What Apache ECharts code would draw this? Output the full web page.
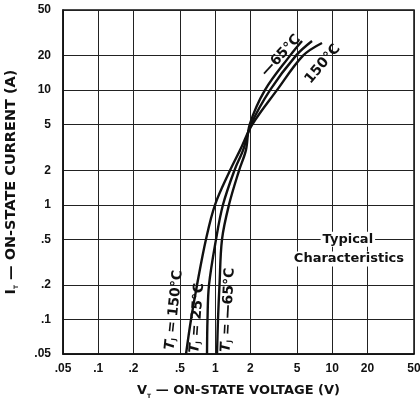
<!DOCTYPE html>
<html>
<head>
<meta charset="utf-8">
<script src="https://cdn.jsdelivr.net/npm/echarts@6/dist/echarts.min.js"></script>
<style>
  html, body { margin: 0; padding: 0; background: #fff; }
  #chart { width: 420px; height: 401px; }
</style>
</head>
<body>
<div id="chart"></div>
<script>
// tick values (log-log, 1-2-5 grid)
const xTicks = [0.05, 0.1, 0.2, 0.5, 1, 2, 5, 10, 20, 50];
const xTickLabels = ['.05', '.1', '.2', '.5', '1', '2', '5', '10', '20', '50'];
const yTicks = [0.05, 0.1, 0.2, 0.5, 1, 2, 5, 10, 20, 50];
const yTickLabels = ['.05', '.1', '.2', '.5', '1', '2', '5', '10', '20', '50'];

// T_J = 150°C
const current150 = [0.05, 0.1, 0.2, 0.5, 1, 2, 3, 5, 10, 20, 25.8];
const voltage150 = [0.563, 0.621, 0.699, 0.834, 0.996, 1.34, 1.63, 2.07, 3.37, 5.63, 8.18];
// T_J = 25°C
const current25 = [0.05, 0.1, 0.2, 0.5, 1, 2, 3, 5, 10, 20, 26.8];
const voltage25 = [0.851, 0.859, 0.885, 1.016, 1.165, 1.46, 1.73, 2.02, 2.94, 4.90, 6.72];
// T_J = -65°C
const currentM65 = [0.05, 0.1, 0.2, 0.5, 1, 2, 3, 5, 10, 20, 26.8];
const voltageM65 = [1.036, 1.056, 1.088, 1.143, 1.311, 1.60, 1.83, 1.97, 2.66, 4.36, 5.52];

const lg = Math.log10;
const xTickLog = xTicks.map(lg);
const yTickLog = yTicks.map(lg);

function pickLabel(logs, labels, val) {
  const i = logs.findIndex(t => Math.abs(t - val) < 1e-6);
  return i < 0 ? '' : labels[i];
}

function toPoints(v, c) {
  return v.map((x, i) => [lg(x), lg(c[i])]);
}

const FONT = '"Liberation Sans", Arial, sans-serif';
const WIDE = '"DejaVu Sans", sans-serif';
const lineStyle = { color: '#111', width: 2.4 };

function curve(name, v, c) {
  return {
    name: name,
    type: 'line',
    data: toPoints(v, c),
    smooth: 0.35,
    showSymbol: false,
    symbol: 'none',
    lineStyle: lineStyle,
    silent: true,
    z: 5
  };
}

function titleRich(size) {
  return {
    b: { fontFamily: WIDE, fontWeight: 'bold', fontSize: size, color: '#111', lineHeight: 16 },
    s: { fontFamily: WIDE, fontWeight: 'bold', fontSize: 6, color: '#111', verticalAlign: 'bottom', lineHeight: 11 }
  };
}

const chart = echarts.init(document.getElementById('chart'), null, { renderer: 'canvas' });

const option = {
  animation: false,
  backgroundColor: '#fff',
  grid: {
    left: 63, top: 10, right: 6, bottom: 47,
    show: true, borderColor: '#111', borderWidth: 1.5,
    containLabel: false,
    outerBoundsMode: 'none'
  },
  xAxis: {
    type: 'value',
    min: lg(0.05), max: lg(50),
    name: '{b|V}{s|T}{b| — ON-STATE VOLTAGE (V)}',
    nameLocation: 'middle',
    nameGap: 29,
    nameTextStyle: { rich: titleRich(13) },
    axisLine: { show: true, onZero: false, lineStyle: { color: '#111', width: 1.5 } },
    axisTick: { show: false, customValues: xTickLog },
    splitLine: { show: true, lineStyle: { color: '#222', width: 1 } },
    axisLabel: {
      customValues: xTickLog,
      margin: 9,
      fontFamily: FONT, fontWeight: 'bold', fontSize: 12, color: '#111',
      formatter: v => pickLabel(xTickLog, xTickLabels, v)
    }
  },
  yAxis: {
    type: 'value',
    min: lg(0.05), max: lg(50),
    name: '{b|I}{s|T}{b| — ON-STATE CURRENT (A)}',
    nameLocation: 'middle',
    nameGap: 44,
    nameRotate: 90,
    nameTextStyle: { rich: titleRich(14.5) },
    axisLine: { show: true, onZero: false, lineStyle: { color: '#111', width: 1.5 } },
    axisTick: { show: false, customValues: yTickLog },
    splitLine: { show: true, lineStyle: { color: '#222', width: 1 } },
    axisLabel: {
      customValues: yTickLog,
      margin: 12,
      fontFamily: FONT, fontWeight: 'bold', fontSize: 12, color: '#111',
      formatter: v => pickLabel(yTickLog, yTickLabels, v)
    }
  },
  series: [
    curve('150', voltage150, current150),
    curve('25', voltage25, current25),
    curve('-65', voltageM65, currentM65)
  ]
};

chart.setOption(option);

// annotations placed in data space
const px = (v, i) => chart.convertToPixel('grid', [lg(v), lg(i)]);
const deg = d => d * Math.PI / 180;
const tjRich = {
  t: { fontFamily: WIDE, fontWeight: 'bold', fontStyle: 'italic', fontSize: 14, fill: '#111' },
  j: { fontFamily: WIDE, fontWeight: 'bold', fontSize: 7, fill: '#111', verticalAlign: 'bottom', lineHeight: 10 },
  b: { fontFamily: WIDE, fontWeight: 'bold', fontSize: 14, fill: '#111' }
};

function label(pos, text, rot, extra) {
  return {
    type: 'text',
    x: pos[0], y: pos[1],
    rotation: deg(rot),
    z: 20,
    style: Object.assign({
      text: text,
      font: 'bold 14px ' + WIDE,
      fill: '#111',
      align: 'center',
      verticalAlign: 'middle'
    }, extra || {})
  };
}

chart.setOption({
  graphic: [
    label(px(3.65, 20), '—65°C', 47),
    label(px(8.3, 16.9), '150°C', 50),
    label(px(0.444, 0.121), '{t|T}{j|J}{b| = 150°C}', 84, { rich: tjRich }),
    label(px(0.699, 0.103), '{t|T}{j|J}{b| = 25°C}', 86, { rich: tjRich }),
    label(px(1.285, 0.121), '{t|T}{j|J}{b| = —65°C}', 87, { rich: tjRich }),
    label(px(13.6, 0.5), 'Typical', 0, {
      font: 'bold 13px ' + WIDE, backgroundColor: '#fff', padding: [1, 2]
    }),
    label(px(13.9, 0.337), 'Characteristics', 0, {
      font: 'bold 13px ' + WIDE, backgroundColor: '#fff', padding: [1, 2]
    })
  ]
});
</script>
</body>
</html>
